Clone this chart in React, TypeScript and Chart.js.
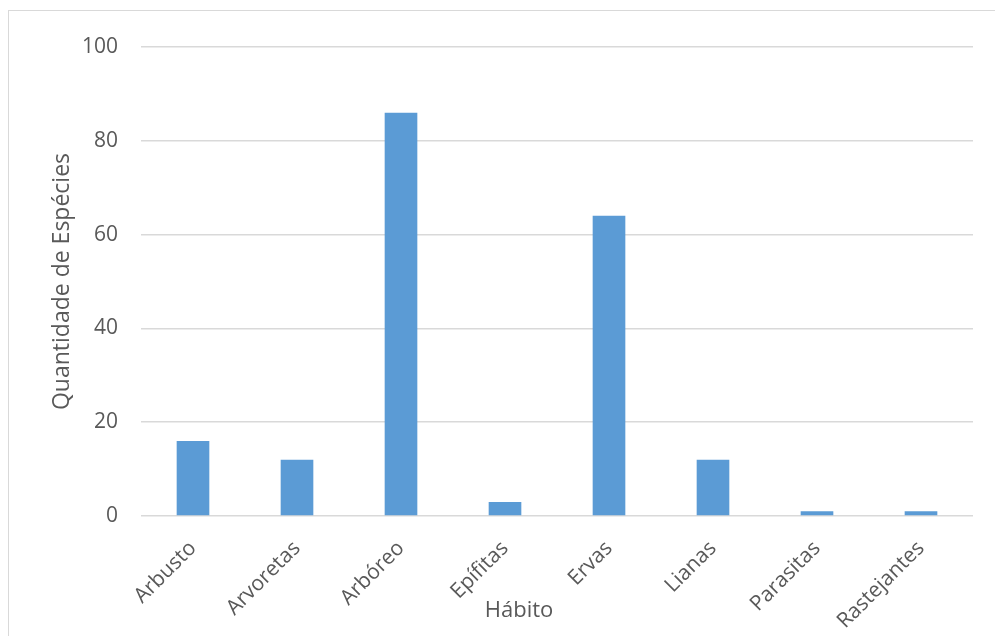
import React, { useEffect, useRef } from "react";
import { Chart, registerables } from "chart.js";

Chart.register(...registerables);

// Species count per growth habit
const habits = ["Arbusto", "Arvoretas", "Arbóreo", "Epífitas", "Ervas", "Lianas", "Parasitas", "Rastejantes"];
const speciesCounts = [16, 12, 86, 3, 64, 12, 1, 1];
const yMin = 0;
const yMax = 100;
const yStep = 20;
const yTitle = "Quantidade de Espécies";
const xTitle = "Hábito";

const FONT = "'Open Sans', 'Noto Sans', sans-serif";
const TEXT = "#595959";
const GRID = "#d9d9d9";
const BAR = "#5b9bd5";

// Draws the category axis title beneath the rotated labels
const xTitlePlugin = {
  id: "xTitle",
  afterDraw(chart: Chart) {
    const { ctx } = chart;
    ctx.save();
    ctx.font = `22px ${FONT}`;
    ctx.fillStyle = TEXT;
    ctx.textAlign = "center";
    ctx.textBaseline = "middle";
    ctx.fillText(xTitle, 519, 611);
    ctx.restore();
  },
};

export default function App() {
  const canvasRef = useRef<HTMLCanvasElement | null>(null);

  useEffect(() => {
    const canvas = canvasRef.current;
    if (!canvas) return;
    const chart = new Chart(canvas, {
      type: "bar",
      data: {
        labels: habits,
        datasets: [
          {
            data: speciesCounts,
            backgroundColor: BAR,
            borderWidth: 0,
            categoryPercentage: 1,
            barPercentage: 0.314,
          },
        ],
      },
      options: {
        responsive: false,
        animation: false,
        devicePixelRatio: 1,
        layout: { padding: { top: 47, right: 22, bottom: 0, left: 0 } },
        plugins: {
          legend: { display: false },
          tooltip: { enabled: false },
        },
        scales: {
          x: {
            grid: { display: false },
            border: { display: false },
            ticks: {
              color: TEXT,
              font: { family: FONT, size: 21 },
              minRotation: 45,
              maxRotation: 45,
              padding: 12,
            },
            afterFit(scale: any) {
              scale.height = 120;
            },
          },
          y: {
            min: yMin,
            max: yMax,
            border: { display: false },
            grid: { color: GRID, lineWidth: 1.5, drawTicks: false },
            ticks: {
              stepSize: yStep,
              color: TEXT,
              font: { family: FONT, size: 21 },
              padding: 23,
            },
            title: {
              display: true,
              text: yTitle,
              color: TEXT,
              font: { family: FONT, size: 23 },
              padding: { top: 49, bottom: 0 },
            },
            afterFit(scale: any) {
              scale.width = 141;
            },
          },
        },
      },
      plugins: [xTitlePlugin],
    });
    return () => chart.destroy();
  }, []);

  return (
    <div style={{ position: "fixed", left: 0, top: 0, width: 995, height: 636, overflow: "hidden", background: "#fff" }}>
      <div
        style={{
          position: "absolute",
          left: 8,
          top: 10,
          width: 1000,
          height: 700,
          border: `1.5px solid ${GRID}`,
        }}
      />
      <canvas ref={canvasRef} width={995} height={636} style={{ position: "absolute", left: 0, top: 0 }} />
    </div>
  );
}
